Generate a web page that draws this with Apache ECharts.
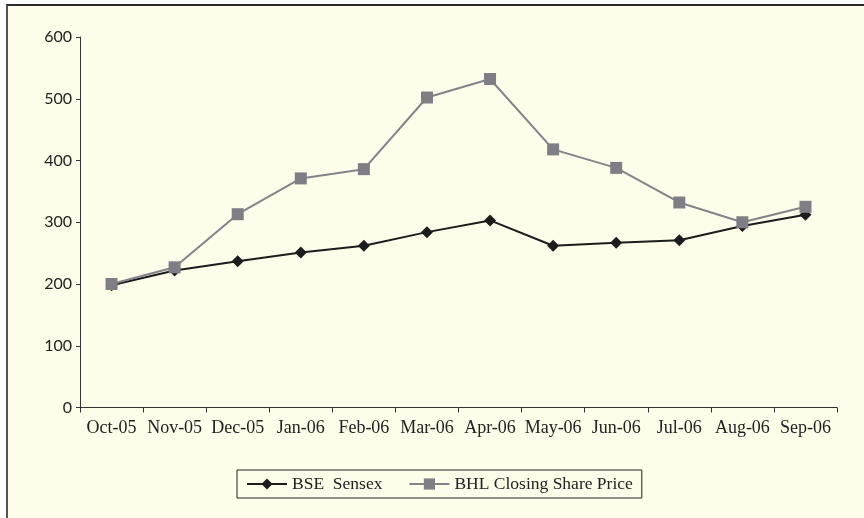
<!DOCTYPE html>
<html>
<head>
<meta charset="utf-8">
<script src="https://cdn.jsdelivr.net/npm/echarts@6/dist/echarts.min.js"></script>
<style>
  html, body { margin: 0; padding: 0; background: #ffffff; }
  #frame {
    position: absolute; left: 6px; top: 4px; width: 900px; height: 512px;
    background: #fefde9;
    border-top: 2px solid #2a2a2a;
    border-left: 2px solid #555555;
    border-bottom: 2px solid #aaaaaa;
  }
  #chart { position: absolute; left: 0; top: 0; width: 864px; height: 518px; }
</style>
</head>
<body>
<div id="frame"></div>
<div id="chart"></div>
<script>
// Monthly comparison: BSE Sensex vs BHL closing share price
const months = ['Oct-05', 'Nov-05', 'Dec-05', 'Jan-06', 'Feb-06', 'Mar-06',
                'Apr-06', 'May-06', 'Jun-06', 'Jul-06', 'Aug-06', 'Sep-06'];
const bseSensex = [198, 222, 237, 251, 262, 284, 303, 262, 267, 271, 294, 312];
const bhlPrice  = [200, 227, 313, 371, 386, 502, 532, 418, 388, 332, 300, 325];
const yTicks = [0, 100, 200, 300, 400, 500, 600];

const serif = '"Liberation Serif", "DejaVu Serif", serif';
const sans = 'Lato, "Noto Sans", sans-serif';

const chart = echarts.init(document.getElementById('chart'), null, { renderer: 'canvas' });
chart.setOption({
  backgroundColor: 'transparent',
  animation: false,
  grid: { left: 80, right: 27, top: 37, bottom: 110.5 },
  legend: {
    top: 470,
    left: 237,
    itemWidth: 40,
    itemHeight: 14,
    itemGap: 26,
    padding: [5, 9, 5, 9],
    borderColor: '#222',
    borderWidth: 1,
    borderRadius: 0,
    backgroundColor: '#fefde9',
    textStyle: { fontFamily: serif, fontSize: 17.5, color: '#222' },
    data: ['BSE  Sensex', 'BHL Closing Share Price']
  },
  xAxis: {
    type: 'category',
    data: months,
    boundaryGap: true,
    axisLine: { lineStyle: { color: '#333', width: 1 } },
    axisTick: { show: true, length: 5, inside: false, lineStyle: { color: '#333' } },
    axisLabel: { fontFamily: serif, fontSize: 18, color: '#222', margin: 12, interval: 0 },
    splitLine: { show: false }
  },
  yAxis: {
    type: 'value',
    min: yTicks[0],
    max: yTicks[yTicks.length - 1],
    interval: 100,
    axisLine: { show: true, lineStyle: { color: '#333', width: 1 } },
    axisTick: { show: true, length: 4, lineStyle: { color: '#333' } },
    axisLabel: { fontFamily: sans, fontSize: 16, color: '#222', margin: 8 },
    splitLine: { show: false }
  },
  series: [
    {
      name: 'BSE  Sensex',
      type: 'line',
      data: bseSensex,
      symbol: 'diamond',
      symbolSize: 12,
      z: 2,
      lineStyle: { color: '#1c1c1c', width: 2 },
      itemStyle: { color: '#1c1c1c' }
    },
    {
      name: 'BHL Closing Share Price',
      type: 'line',
      data: bhlPrice,
      symbol: 'rect',
      symbolSize: 12,
      z: 3,
      lineStyle: { color: '#838389', width: 2 },
      itemStyle: { color: '#7e7e84' }
    }
  ]
});
</script>
</body>
</html>
